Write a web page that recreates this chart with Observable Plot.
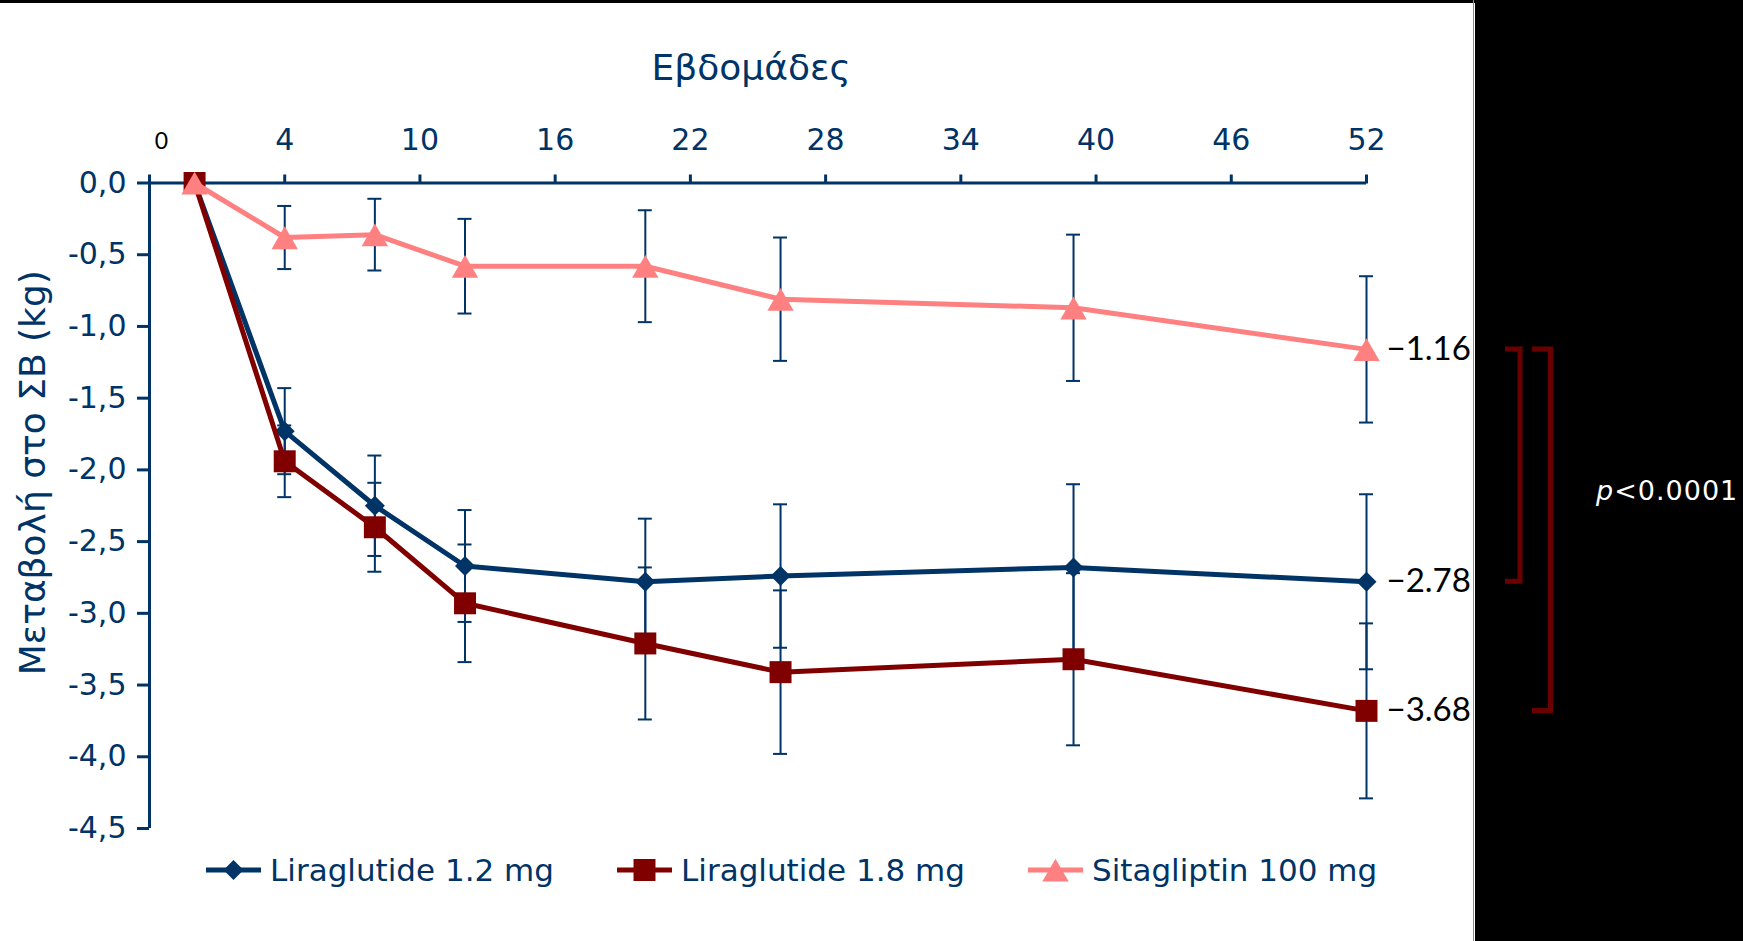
<!DOCTYPE html>
<html>
<head>
<meta charset="utf-8">
<script src="https://cdn.jsdelivr.net/npm/d3@7"></script>
<script src="https://cdn.jsdelivr.net/npm/@observablehq/plot@0.6"></script>
<style>
  html, body { margin: 0; padding: 0; background: #fff; }
  #chart { position: relative; width: 1743px; height: 941px; overflow: hidden; background: #fff; }
  #chart > svg.main { position: absolute; left: 0; top: 0; }
  .topband { position: absolute; left: 0; top: 0; width: 1743px; height: 3px; background: #000; }
  .edge { position: absolute; left: 1473px; top: 0; width: 1px; height: 941px; background: #8a8a8a; }
  .panel { position: absolute; left: 1475px; top: 0; width: 268px; height: 941px; background: #000; }
  .overlay { position: absolute; left: 0; top: 0; pointer-events: none; }
  .pval { position: absolute; left: 1596px; color: #fff; font: 27px "DejaVu Sans", sans-serif; letter-spacing: 1px; line-height: 30px; white-space: nowrap; }
  .legend-item { position: absolute; top: 852px; height: 36px; display: flex; align-items: center; white-space: nowrap;
                 font: 31px "DejaVu Sans", sans-serif; color: #003366; }
  .legend-item svg { margin-right: 9px; }
</style>
</head>
<body>
<div id="chart">
  <div class="topband"></div>
</div>
<script>
// Weeks of treatment
const weeks = [0, 4, 8, 12, 20, 26, 39, 52];

// Mean change in body weight (kg) and error-bar half-widths per arm
const lira12    = [0, -1.73, -2.25, -2.67, -2.78, -2.74, -2.68, -2.78];
const lira12Err = [0,  0.30,  0.35,  0.39,  0.44,  0.50,  0.58,  0.61];
const lira18    = [0, -1.94, -2.40, -2.93, -3.21, -3.41, -3.32, -3.68];
const lira18Err = [0,  0.25,  0.31,  0.41,  0.53,  0.57,  0.60,  0.61];
const sita      = [0, -0.38, -0.36, -0.58, -0.58, -0.81, -0.87, -1.16];
const sitaErr   = [0,  0.22,  0.25,  0.33,  0.39,  0.43,  0.51,  0.51];

const seriesNames = ["Liraglutide 1.2 mg", "Liraglutide 1.8 mg", "Sitagliptin 100 mg"];
const seriesColors = ["#003366", "#800000", "#ff8080"];

// Axis ticks and labels
const xStart = -2;
const xTicks = [4, 10, 16, 22, 28, 34, 40, 46, 52];
const originLabel = "0";
const yTicks = [0, -0.5, -1, -1.5, -2, -2.5, -3, -3.5, -4, -4.5];
const xTitle = "Εβδομάδες";
const yTitle = "Μεταβολή στο ΣΒ (kg)";
const pText = "<0.0001";

const navy = "#003366";
const bracketColor = "#6b0000";

const seriesValues = [lira12, lira18, sita];
const seriesErrs = [lira12Err, lira18Err, sitaErr];
const rows = seriesNames.flatMap((name, s) =>
  weeks.map((w, i) => ({series: name, week: w, value: seriesValues[s][i], err: seriesErrs[s][i]}))
);
const errRows = rows.filter(d => d.err > 0);
const lastWeek = weeks[weeks.length - 1];
const endRows = rows.filter(d => d.week === lastWeek);

// Marker shapes (d3 symbol type, Plot radius, vertical nudge)
const markers = {
  "Liraglutide 1.2 mg": {symbol: "diamond2", r: 9, dy: 0},
  "Liraglutide 1.8 mg": {symbol: "square", r: 12.4, dy: 0},
  "Sitagliptin 100 mg": {symbol: "triangle", r: 9.8, dy: 4}
};

const seriesMarks = seriesNames.flatMap((name, s) => {
  const data = rows.filter(d => d.series === name);
  const m = markers[name];
  return [
    Plot.line(data, {x: "week", y: "value", stroke: seriesColors[s], strokeWidth: 5, strokeLinejoin: "round"}),
    Plot.dot(data, {x: "week", y: "value", symbol: m.symbol, r: m.r, fill: seriesColors[s], stroke: "none", dy: m.dy})
  ];
});

const fmtComma = d => d.toFixed(1).replace(".", ",");
const fmtEnd = v => (v < 0 ? "\u2212" : "") + Math.abs(v).toFixed(2);

const plot = Plot.plot({
  width: 1743,
  height: 941,
  marginLeft: 149,
  marginRight: 377,
  marginTop: 182.5,
  marginBottom: 113,
  className: "main",
  style: {fontFamily: "DejaVu Sans, sans-serif", fontSize: "30px", color: navy, background: "transparent", overflow: "visible"},
  x: {domain: [xStart, lastWeek], axis: null},
  y: {domain: [-4.5, 0], axis: null},
  marks: [
    // error bars
    Plot.ruleX(errRows, {x: "week", y1: d => d.value - d.err, y2: d => d.value + d.err, stroke: navy, strokeWidth: 2}),
    Plot.ruleY(errRows, {y: d => d.value + d.err, x1: "week", x2: "week", insetLeft: -7, insetRight: -7, stroke: navy, strokeWidth: 2}),
    Plot.ruleY(errRows, {y: d => d.value - d.err, x1: "week", x2: "week", insetLeft: -7, insetRight: -7, stroke: navy, strokeWidth: 2}),
    // axes
    Plot.ruleY([0], {stroke: navy, strokeWidth: 3}),
    Plot.ruleX([xStart], {stroke: navy, strokeWidth: 3}),
    Plot.axisX([xStart, ...xTicks], {anchor: "top", tickSize: 9, tickPadding: 24, strokeWidth: 3, fontSize: 30,
      tickFormat: d => d === xStart ? "" : String(d), label: null}),
    Plot.axisY(yTicks, {anchor: "left", tickSize: 12, tickPadding: 11, strokeWidth: 3, fontSize: 30,
      tickFormat: fmtComma, label: null}),
    Plot.text([originLabel], {x: xStart, y: 0, text: d => d, dx: 12, dy: -41, fill: "#000", fontSize: 23, fontFamily: "Lato, sans-serif"}),
    Plot.text([xTitle], {frameAnchor: "top", text: d => d, dx: -7, dy: -129, fontSize: 36, fill: navy}),
    Plot.text([yTitle], {frameAnchor: "left", textAnchor: "middle", text: d => d, rotate: -90, dx: -116, dy: -33, fontSize: 36, fill: navy}),
    // series
    ...seriesMarks,
    // end-of-study values
    Plot.text(endRows, {x: "week", y: "value", text: d => fmtEnd(d.value), dx: 20, textAnchor: "start",
      fill: "#000", fontSize: 33, fontFamily: "Lato, sans-serif"})
  ]
});

const chart = document.getElementById("chart");
chart.appendChild(plot);

const edge = document.createElement("div"); edge.className = "edge"; chart.appendChild(edge);
const panel = document.createElement("div"); panel.className = "panel"; chart.appendChild(panel);

// Significance brackets tied to the week-52 values
const yScale = plot.scale("y");
const endVal = name => endRows.find(d => d.series === name).value;
const ySita = yScale.apply(endVal(seriesNames[2]));
const yL12 = yScale.apply(endVal(seriesNames[0]));
const yL18 = yScale.apply(endVal(seriesNames[1]));

const ov = d3.create("svg").attr("class", "overlay").attr("width", 1743).attr("height", 941);
ov.append("path").attr("d", `M1505,${ySita}H1520V${yL12}H1505`)
  .attr("fill", "none").attr("stroke", bracketColor).attr("stroke-width", 5);
ov.append("path").attr("d", `M1532,${ySita}H1550.5V${yL18}H1532`)
  .attr("fill", "none").attr("stroke", bracketColor).attr("stroke-width", 5);
chart.appendChild(ov.node());

const pv = document.createElement("div");
pv.className = "pval";
pv.style.top = (491 - 15) + "px";
pv.innerHTML = `<i>p</i>${pText.replace("<", "&lt;")}`;
chart.appendChild(pv);

// Legend
const symbolTypes = {diamond2: d3.symbolDiamond2, square: d3.symbolSquare, triangle: d3.symbolTriangle};
seriesNames.forEach((name, s) => {
  const item = document.createElement("div");
  item.className = "legend-item";
  item.style.left = (206 + s * 411) + "px";
  const sw = d3.create("svg").attr("width", 55).attr("height", 30);
  sw.append("line").attr("x1", 0).attr("x2", 55).attr("y1", 15).attr("y2", 15)
    .attr("stroke", seriesColors[s]).attr("stroke-width", 5);
  const m = markers[name];
  sw.append("path")
    .attr("d", d3.symbol(symbolTypes[m.symbol], Math.PI * m.r * m.r)())
    .attr("transform", `translate(27.5,${15 + m.dy})`)
    .attr("fill", seriesColors[s]);
  item.appendChild(sw.node());
  const label = document.createElement("span");
  label.textContent = name;
  item.appendChild(label);
  chart.appendChild(item);
});
</script>
</body>
</html>
